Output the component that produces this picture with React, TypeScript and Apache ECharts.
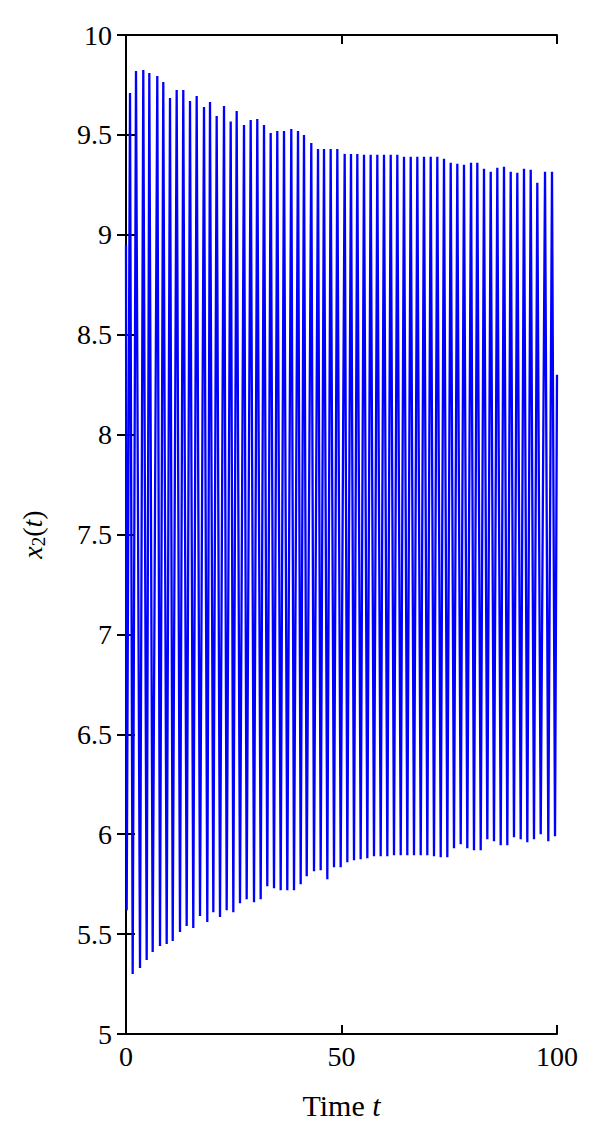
import React, { useEffect, useRef } from "react";
import * as echarts from "echarts";

// x2(t) oscillation: alternating troughs and peaks
const startPoint: [number, number] = [0, 8.95];
const endPoint: [number, number] = [100, 8.3];

const peakTimes = [
  0.93, 2.32, 4.01, 5.41, 7.26, 8.65, 10.21, 11.76, 13.29, 14.85, 16.4, 18.1, 19.49, 21.04, 22.74, 24.29,
  25.68, 27.38, 28.93, 30.46, 32.02, 33.57, 35.1, 36.66, 38.35, 39.91, 41.3, 42.99, 44.55, 45.94, 47.49,
  49.03, 50.74, 52.2, 53.67, 55.22, 56.77, 58.31, 59.86, 61.42, 62.95, 64.5, 66.06, 67.59, 69.14, 70.7,
  72.23, 73.78, 75.34, 76.87, 78.42, 80.05, 81.51, 83.06, 84.62, 86.15, 87.7, 89.26, 90.79, 92.34, 93.9,
  95.43, 97.22, 98.84,
];
const peakValues = [
  9.71, 9.82, 9.825, 9.81, 9.795, 9.765, 9.685, 9.725, 9.725, 9.67, 9.695, 9.64, 9.665, 9.595, 9.645, 9.567,
  9.62, 9.55, 9.575, 9.58, 9.55, 9.51, 9.52, 9.52, 9.53, 9.52, 9.5, 9.46, 9.43, 9.43, 9.43, 9.43, 9.405,
  9.405, 9.405, 9.4, 9.4, 9.4, 9.4, 9.4, 9.4, 9.39, 9.39, 9.39, 9.39, 9.39, 9.39, 9.38, 9.36, 9.355, 9.35,
  9.36, 9.36, 9.33, 9.315, 9.335, 9.34, 9.315, 9.31, 9.33, 9.325, 9.26, 9.315, 9.315,
];
const troughTimes = [
  0.16, 1.55, 3.25, 4.8, 6.19, 7.89, 9.44, 10.84, 12.53, 14.08, 15.61, 17.17, 18.86, 20.26, 21.81, 23.36,
  24.9, 26.45, 28.0, 29.7, 31.25, 32.78, 34.34, 35.89, 37.42, 38.98, 40.53, 41.93, 43.62, 45.17, 46.71,
  48.26, 49.81, 51.35, 52.9, 54.45, 55.99, 57.54, 59.09, 60.63, 62.18, 63.74, 65.27, 66.82, 68.38, 69.91,
  71.46, 73.02, 74.55, 76.1, 77.66, 79.19, 80.74, 82.3, 83.83, 85.38, 86.94, 88.47, 90.02, 91.58, 93.11,
  94.66, 96.22, 97.98, 99.54,
];
const troughValues = [
  5.62, 5.3, 5.33, 5.37, 5.41, 5.44, 5.45, 5.465, 5.51, 5.54, 5.53, 5.59, 5.56, 5.61, 5.585, 5.62, 5.61,
  5.655, 5.675, 5.66, 5.675, 5.74, 5.73, 5.72, 5.72, 5.72, 5.75, 5.79, 5.815, 5.82, 5.775, 5.835, 5.835,
  5.86, 5.87, 5.875, 5.88, 5.89, 5.89, 5.89, 5.895, 5.895, 5.895, 5.895, 5.895, 5.895, 5.89, 5.885, 5.885,
  5.93, 5.95, 5.93, 5.92, 5.92, 5.975, 5.965, 5.945, 5.945, 5.985, 5.975, 5.96, 5.975, 6.0, 5.965, 5.99,
];

const xTicks = [0, 50, 100];
const yMin = 5;
const yMax = 10;

function buildSeries(): [number, number][] {
  const pts: [number, number][] = [startPoint];
  for (let i = 0; i < troughTimes.length; i++) {
    pts.push([troughTimes[i], troughValues[i]]);
    if (i < peakTimes.length) pts.push([peakTimes[i], peakValues[i]]);
  }
  pts.push(endPoint);
  return pts;
}

const FONT = "Liberation Serif";
const numRich = { n: { fontFamily: FONT, fontSize: 28, color: "#000" } };

export default function App() {
  const ref = useRef<HTMLDivElement>(null);
  useEffect(() => {
    if (!ref.current) return;
    const chart = echarts.init(ref.current, null, { renderer: "svg" });
    const axisLine = { show: true, lineStyle: { color: "#000", width: 2 } };
    const tick = { show: true, inside: true, length: 9, lineStyle: { color: "#000", width: 2 } };
    chart.setOption({
      animation: false,
      backgroundColor: "#fff",
      textStyle: { fontFamily: FONT },
      grid: { left: 126, top: 35, width: 431, height: 999, containLabel: false },
      xAxis: [
        {
          type: "value",
          min: 0,
          max: 100,
          interval: 50,
          position: "bottom",
          axisLine,
          axisTick: tick,
          splitLine: { show: false },
          axisLabel: {
            margin: 8,
            formatter: (v: number) => (xTicks.includes(v) ? `{n|${v}}` : ""),
            rich: numRich,
          },
          name: "{a|Time }{i|t}",
          nameLocation: "middle",
          nameGap: 56,
          nameTextStyle: {
            rich: {
              a: { fontFamily: FONT, fontSize: 30, color: "#000" },
              i: { fontFamily: FONT, fontSize: 30, fontStyle: "italic", color: "#000" },
            },
          },
        },
        {
          type: "value",
          min: 0,
          max: 100,
          interval: 50,
          position: "top",
          axisLine,
          axisTick: tick,
          axisLabel: { show: false },
          splitLine: { show: false },
        },
      ],
      yAxis: [
        {
          type: "value",
          min: yMin,
          max: yMax,
          interval: 0.5,
          position: "left",
          axisLine,
          axisTick: tick,
          splitLine: { show: false },
          axisLabel: {
            margin: 14,
            formatter: (v: number) => `{n|${v}}`,
            rich: numRich,
          },
          name: "{i|x}{s|2}{a|(}{i|t}{a|)}",
          nameLocation: "middle",
          nameGap: 78,
          nameTextStyle: {
            rich: {
              i: { fontFamily: FONT, fontSize: 28, fontStyle: "italic", color: "#000" },
              a: { fontFamily: FONT, fontSize: 28, color: "#000" },
              s: { fontFamily: FONT, fontSize: 19, color: "#000", padding: [12, 0, 0, 0] },
            },
          },
        },
        {
          type: "value",
          min: yMin,
          max: yMax,
          interval: 0.5,
          position: "right",
          axisLine,
          axisTick: tick,
          axisLabel: { show: false },
          splitLine: { show: false },
        },
      ],
      series: [
        {
          type: "line",
          data: buildSeries(),
          showSymbol: false,
          symbol: "none",
          lineStyle: { color: "#0000ff", width: 2.3 },
          clip: true,
        },
      ],
    });
    return () => chart.dispose();
  }, []);
  return (
    <div
      ref={ref}
      style={{ position: "absolute", left: 0, top: 0, width: 600, height: 1138 }}
    />
  );
}
